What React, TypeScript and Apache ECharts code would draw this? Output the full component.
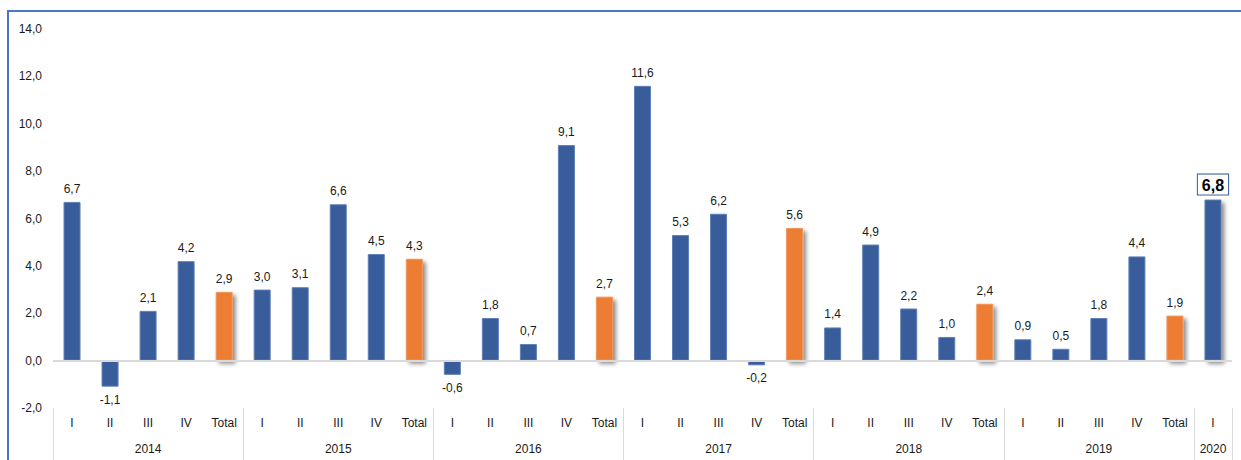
import React, { useEffect, useRef } from "react";
import * as echarts from "echarts";

const years = ["2014", "2015", "2016", "2017", "2018", "2019", "2020"];
const yearSpans = [5, 5, 5, 5, 5, 5, 1];
const periods = [
  "I", "II", "III", "IV", "Total",
  "I", "II", "III", "IV", "Total",
  "I", "II", "III", "IV", "Total",
  "I", "II", "III", "IV", "Total",
  "I", "II", "III", "IV", "Total",
  "I", "II", "III", "IV", "Total",
  "I",
];
const values = [
  6.7, -1.1, 2.1, 4.2, 2.9,
  3.0, 3.1, 6.6, 4.5, 4.3,
  -0.6, 1.8, 0.7, 9.1, 2.7,
  11.6, 5.3, 6.2, -0.2, 5.6,
  1.4, 4.9, 2.2, 1.0, 2.4,
  0.9, 0.5, 1.8, 4.4, 1.9,
  6.8,
];
const yTicks = { min: -2, max: 14, interval: 2 };

const BLUE = "#385D9A";
const ORANGE = "#ED7D31";
const FONT = "'Liberation Sans', Arial, sans-serif";
const TEXT = "#1a1a1a";

const fmt = (v: number) => v.toFixed(1).replace(".", ",");

export default function App() {
  const ref = useRef<HTMLDivElement>(null);
  useEffect(() => {
    if (!ref.current) return;
    const chart = echarts.init(ref.current, null, { renderer: "svg" });

    const yearLabels: string[] = new Array(periods.length).fill("");
    let start = 0;
    years.forEach((y, i) => {
      yearLabels[start + Math.floor(yearSpans[i] / 2)] = y;
      start += yearSpans[i];
    });
    const total = yearSpans.reduce((a, b) => a + b, 0);
    const last = values.length - 1;

    const data = values.map((v, i) => {
      const isTotal = periods[i] === "Total";
      const isLast = i === last;
      const item: any = {
        value: v,
        itemStyle: {
          color: isTotal ? ORANGE : BLUE,
          borderColor: isTotal ? "#F0955A" : "#5E7FB7",
          borderWidth: 1,
        },
        label: { position: v < 0 ? "bottom" : "top" },
      };
      if (isTotal || isLast) {
        item.itemStyle.shadowColor = "rgba(0,0,0,0.45)";
        item.itemStyle.shadowBlur = 4;
        item.itemStyle.shadowOffsetX = 3;
        item.itemStyle.shadowOffsetY = 3;
      }
      if (isLast) {
        item.label = {
          position: "top",
          fontSize: 16,
          fontWeight: "bold",
          color: "#000",
          borderColor: "#2E5C9A",
          borderWidth: 1,
          backgroundColor: "#fff",
          padding: [3, 4, 1, 4],
          distance: 5,
        };
      }
      return item;
    });

    chart.setOption({
      animation: false,
      grid: { left: 53, right: 9, top: 29, bottom: 52, containLabel: false, outerBoundsMode: "none" },
      xAxis: [
        {
          type: "category",
          data: periods,
          position: "bottom",
          axisLine: { show: false },
          axisTick: { show: false },
          axisLabel: { interval: 0, margin: 9, fontSize: 12, color: TEXT, fontFamily: FONT },
        },
        {
          type: "category",
          data: yearLabels,
          position: "bottom",
          axisLine: { show: false },
          axisTick: { show: false },
          axisLabel: { interval: 0, margin: 35, fontSize: 12, color: TEXT, fontFamily: FONT },
        },
        {
          type: "value",
          min: 0,
          max: total,
          interval: 5,
          position: "bottom",
          axisLine: { show: false },
          axisLabel: { show: false },
          splitLine: { show: false },
          axisTick: { show: true, length: 52, lineStyle: { color: "#D9D9D9", width: 1 } },
        },
      ],
      yAxis: {
        type: "value",
        min: yTicks.min,
        max: yTicks.max,
        interval: yTicks.interval,
        axisLine: { show: false },
        axisTick: { show: false },
        splitLine: { show: false },
        axisLabel: {
          margin: 11,
          fontSize: 12,
          color: TEXT,
          fontFamily: FONT,
          formatter: (v: number) => fmt(v),
        },
      },
      series: [
        {
          type: "bar",
          xAxisIndex: 0,
          data,
          barWidth: 17,
          label: {
            show: true,
            fontSize: 12,
            color: TEXT,
            fontFamily: FONT,
            distance: 7,
            formatter: (p: any) => fmt(p.value),
          },
          markLine: {
            silent: true,
            symbol: "none",
            label: { show: false },
            lineStyle: { color: "#D9D9D9", width: 2, type: "solid" },
            data: [{ yAxis: 0 }],
          },
          z: 3,
        },
      ],
      textStyle: { fontFamily: FONT },
    });
    return () => chart.dispose();
  }, []);

  return (
    <div style={{ position: "absolute", left: 0, top: 0, width: 1241, height: 460, background: "#fff", overflow: "hidden" }}>
      <div ref={ref} style={{ position: "absolute", left: 0, top: 0, width: 1241, height: 460 }} />
      <div style={{ position: "absolute", left: 8, top: 10, width: 1233, height: 2, background: "#4A76C6" }} />
      <div style={{ position: "absolute", left: 7, top: 10, width: 2, height: 450, background: "#4A76C6" }} />
    </div>
  );
}
